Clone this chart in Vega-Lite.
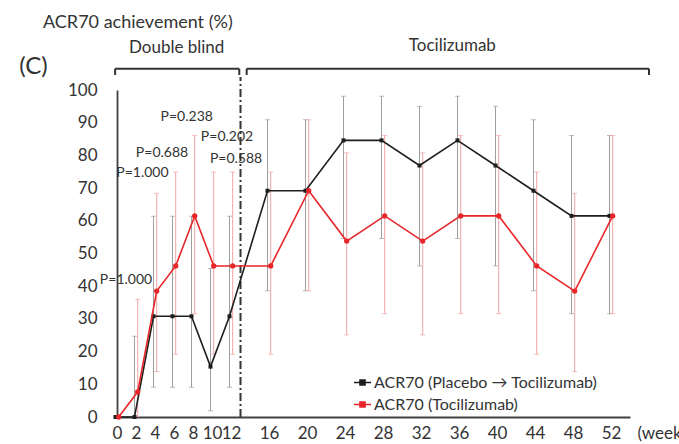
{
  "$schema": "https://vega.github.io/schema/vega-lite/v6.json",
  "autosize": "none",
  "width": 513,
  "height": 327,
  "padding": {"left": 117, "top": 90, "right": 49, "bottom": 27},
  "background": "white",
  "config": {
    "view": {"stroke": null},
    "font": "Lato",
    "axis": {"grid": false, "ticks": false, "tickSize": 0, "labelOverlap": false, "labelFlush": false, "domainColor": "#404040", "labelColor": "#333333", "labelFont": "Lato", "labelFontSize": 17, "titleFont": "Lato", "titleColor": "#333333", "titleFontWeight": "normal"}
  },
  "datasets": {
    "acr": [
      {"week": 0, "series": "ACR70 (Placebo → Tocilizumab)", "value": 0, "lower": null, "upper": null},
      {"week": 2, "series": "ACR70 (Placebo → Tocilizumab)", "value": 0, "lower": 0, "upper": 24.7},
      {"week": 4, "series": "ACR70 (Placebo → Tocilizumab)", "value": 30.8, "lower": 9.1, "upper": 61.4},
      {"week": 6, "series": "ACR70 (Placebo → Tocilizumab)", "value": 30.8, "lower": 9.1, "upper": 61.4},
      {"week": 8, "series": "ACR70 (Placebo → Tocilizumab)", "value": 30.8, "lower": 9.1, "upper": 61.4},
      {"week": 10, "series": "ACR70 (Placebo → Tocilizumab)", "value": 15.4, "lower": 1.9, "upper": 45.4},
      {"week": 12, "series": "ACR70 (Placebo → Tocilizumab)", "value": 30.8, "lower": 9.1, "upper": 61.4},
      {"week": 16, "series": "ACR70 (Placebo → Tocilizumab)", "value": 69.2, "lower": 38.6, "upper": 90.9},
      {"week": 20, "series": "ACR70 (Placebo → Tocilizumab)", "value": 69.2, "lower": 38.6, "upper": 90.9},
      {"week": 24, "series": "ACR70 (Placebo → Tocilizumab)", "value": 84.6, "lower": 54.6, "upper": 98.1},
      {"week": 28, "series": "ACR70 (Placebo → Tocilizumab)", "value": 84.6, "lower": 54.6, "upper": 98.1},
      {"week": 32, "series": "ACR70 (Placebo → Tocilizumab)", "value": 76.9, "lower": 46.2, "upper": 95.0},
      {"week": 36, "series": "ACR70 (Placebo → Tocilizumab)", "value": 84.6, "lower": 54.6, "upper": 98.1},
      {"week": 40, "series": "ACR70 (Placebo → Tocilizumab)", "value": 76.9, "lower": 46.2, "upper": 95.0},
      {"week": 44, "series": "ACR70 (Placebo → Tocilizumab)", "value": 69.2, "lower": 38.6, "upper": 90.9},
      {"week": 48, "series": "ACR70 (Placebo → Tocilizumab)", "value": 61.5, "lower": 31.6, "upper": 86.1},
      {"week": 52, "series": "ACR70 (Placebo → Tocilizumab)", "value": 61.5, "lower": 31.6, "upper": 86.1},
      {"week": 0, "series": "ACR70 (Tocilizumab)", "value": 0, "lower": null, "upper": null},
      {"week": 2, "series": "ACR70 (Tocilizumab)", "value": 7.7, "lower": 0.2, "upper": 36.0},
      {"week": 4, "series": "ACR70 (Tocilizumab)", "value": 38.5, "lower": 13.9, "upper": 68.4},
      {"week": 6, "series": "ACR70 (Tocilizumab)", "value": 46.2, "lower": 19.2, "upper": 74.9},
      {"week": 8, "series": "ACR70 (Tocilizumab)", "value": 61.5, "lower": 31.6, "upper": 86.1},
      {"week": 10, "series": "ACR70 (Tocilizumab)", "value": 46.2, "lower": 19.2, "upper": 74.9},
      {"week": 12, "series": "ACR70 (Tocilizumab)", "value": 46.2, "lower": 19.2, "upper": 74.9},
      {"week": 16, "series": "ACR70 (Tocilizumab)", "value": 46.2, "lower": 19.2, "upper": 74.9},
      {"week": 20, "series": "ACR70 (Tocilizumab)", "value": 69.2, "lower": 38.6, "upper": 90.9},
      {"week": 24, "series": "ACR70 (Tocilizumab)", "value": 53.8, "lower": 25.1, "upper": 80.8},
      {"week": 28, "series": "ACR70 (Tocilizumab)", "value": 61.5, "lower": 31.6, "upper": 86.1},
      {"week": 32, "series": "ACR70 (Tocilizumab)", "value": 53.8, "lower": 25.1, "upper": 80.8},
      {"week": 36, "series": "ACR70 (Tocilizumab)", "value": 61.5, "lower": 31.6, "upper": 86.1},
      {"week": 40, "series": "ACR70 (Tocilizumab)", "value": 61.5, "lower": 31.6, "upper": 86.1},
      {"week": 44, "series": "ACR70 (Tocilizumab)", "value": 46.2, "lower": 19.2, "upper": 74.9},
      {"week": 48, "series": "ACR70 (Tocilizumab)", "value": 38.5, "lower": 13.9, "upper": 68.4},
      {"week": 52, "series": "ACR70 (Tocilizumab)", "value": 61.5, "lower": 31.6, "upper": 86.1}
    ],
    "pvals": [
      {"x": 0.95, "y": 41.9, "label": "P=1.000"},
      {"x": 2.68, "y": 74.5, "label": "P=1.000"},
      {"x": 4.74, "y": 80.8, "label": "P=0.688"},
      {"x": 7.34, "y": 91.7, "label": "P=0.238"},
      {"x": 11.58, "y": 85.5, "label": "P=0.202"},
      {"x": 12.53, "y": 78.9, "label": "P=0.588"}
    ],
    "brackets": [
      {"x": -0.2, "x2": 12.87, "y": 106.5, "y2": 106.5},
      {"x": -0.2, "x2": -0.2, "y": 106.5, "y2": 104.6},
      {"x": 12.87, "x2": 12.87, "y": 106.5, "y2": 104.6},
      {"x": 13.65, "x2": 56.0, "y": 106.5, "y2": 106.5},
      {"x": 13.65, "x2": 13.65, "y": 106.5, "y2": 104.6},
      {"x": 56.0, "x2": 56.0, "y": 106.5, "y2": 104.6}
    ],
    "divider": [{"x": 13, "y": 0, "y2": 104}],
    "headers": [
      {"x": 6.28, "y": 112.8, "label": "Double blind"},
      {"x": 35.3, "y": 113.6, "label": "Tocilizumab"}
    ],
    "panel": [{"x": -8.8, "y": 106.9, "label": "(C)"}],
    "ytitle": [{"x": -7.79, "y": 119.0, "label": "ACR70 achievement (%)"}]
  },
  "layer": [
    {
      "data": {"name": "acr"},
      "transform": [{"filter": "datum.series === 'ACR70 (Placebo → Tocilizumab)' && datum.lower !== null"}],
      "mark": {"type": "rule", "color": "#9e9e9e", "strokeWidth": 1, "xOffset": -1.5},
      "encoding": {
        "x": {"field": "week", "type": "quantitative", "scale": {"domain": [0, 54], "nice": false, "zero": true},
          "axis": {"values": [0, 2, 4, 6, 8, 10, 12, 16, 20, 24, 28, 32, 36, 40, 44, 48, 52], "tickCount": 60, "labelPadding": 8, "labelOverlap": false, "labelFlush": false, "domainWidth": 2.2,
            "title": "(weeks)", "titleAngle": 0, "titleAlign": "left", "titleBaseline": "middle", "titleX": 520, "titleY": 16, "titleFontSize": 17}},
        "y": {"field": "lower", "type": "quantitative", "scale": {"domain": [0, 100], "nice": false},
          "axis": {"values": [0, 10, 20, 30, 40, 50, 60, 70, 80, 90, 100], "tickCount": 30, "labelOverlap": false, "labelPadding": 20, "domainWidth": 1.8, "title": null}},
        "y2": {"field": "upper"}
      }
    },
    {
      "data": {"name": "acr"},
      "transform": [{"filter": "datum.series === 'ACR70 (Placebo → Tocilizumab)' && datum.lower !== null"}, {"fold": ["lower", "upper"], "as": ["end", "yv"]}],
      "mark": {"type": "tick", "color": "#9e9e9e", "orient": "horizontal", "size": 5, "thickness": 1, "xOffset": -1.5},
      "encoding": {
        "x": {"field": "week", "type": "quantitative"},
        "y": {"field": "yv", "type": "quantitative"}
      }
    },
    {
      "data": {"name": "acr"},
      "transform": [{"filter": "datum.series === 'ACR70 (Tocilizumab)' && datum.lower !== null"}],
      "mark": {"type": "rule", "color": "#f4a3a3", "strokeWidth": 1, "xOffset": 1.7},
      "encoding": {
        "x": {"field": "week", "type": "quantitative"},
        "y": {"field": "lower", "type": "quantitative"},
        "y2": {"field": "upper"}
      }
    },
    {
      "data": {"name": "acr"},
      "transform": [{"filter": "datum.series === 'ACR70 (Tocilizumab)' && datum.lower !== null"}, {"fold": ["lower", "upper"], "as": ["end", "yv"]}],
      "mark": {"type": "tick", "color": "#f4a3a3", "orient": "horizontal", "size": 5, "thickness": 1, "xOffset": 1.7},
      "encoding": {
        "x": {"field": "week", "type": "quantitative"},
        "y": {"field": "yv", "type": "quantitative"}
      }
    },
    {
      "data": {"name": "divider"},
      "mark": {"type": "rule", "color": "#333333", "strokeWidth": 2, "strokeDash": [8, 3, 2, 3]},
      "encoding": {
        "x": {"field": "x", "type": "quantitative"},
        "y": {"field": "y", "type": "quantitative"},
        "y2": {"field": "y2"}
      }
    },
    {
      "data": {"name": "acr"},
      "transform": [{"filter": "datum.series === 'ACR70 (Placebo → Tocilizumab)'"}],
      "mark": {"type": "line", "strokeWidth": 1.6, "xOffset": -1.5},
      "encoding": {
        "x": {"field": "week", "type": "quantitative"},
        "y": {"field": "value", "type": "quantitative"},
        "color": {"field": "series", "type": "nominal",
          "scale": {"domain": ["ACR70 (Placebo → Tocilizumab)", "ACR70 (Tocilizumab)"], "range": ["#1e1e1e", "#e8262a"]},
          "legend": {"orient": "none", "legendX": 236, "legendY": 283, "title": null, "padding": 0,
            "symbolType": "M-1,0L1,0M-0.3,-0.3L0.3,-0.3L0.3,0.3L-0.3,0.3Z", "symbolSize": 289, "symbolStrokeWidth": 1.5,
            "labelFont": "Lato", "labelFontSize": 16, "labelColor": "#333333", "labelOffset": 2, "labelLimit": 0, "rowPadding": 4,
            "encode": {"symbols": {"update": {"fill": {"scale": "color", "field": "value"}, "stroke": {"scale": "color", "field": "value"}, "opacity": {"value": 1}}}}}}
      }
    },
    {
      "data": {"name": "acr"},
      "transform": [{"filter": "datum.series === 'ACR70 (Placebo → Tocilizumab)'"}],
      "mark": {"type": "point", "shape": "square", "filled": true, "size": 16, "opacity": 1, "xOffset": -1.5},
      "encoding": {
        "x": {"field": "week", "type": "quantitative"},
        "y": {"field": "value", "type": "quantitative"},
        "color": {"field": "series", "type": "nominal"}
      }
    },
    {
      "data": {"name": "acr"},
      "transform": [{"filter": "datum.series === 'ACR70 (Tocilizumab)'"}],
      "mark": {"type": "line", "strokeWidth": 1.6, "xOffset": 1.7},
      "encoding": {
        "x": {"field": "week", "type": "quantitative"},
        "y": {"field": "value", "type": "quantitative"},
        "color": {"field": "series", "type": "nominal"}
      }
    },
    {
      "data": {"name": "acr"},
      "transform": [{"filter": "datum.series === 'ACR70 (Tocilizumab)'"}],
      "mark": {"type": "point", "shape": "circle", "filled": true, "size": 28, "opacity": 1, "xOffset": 1.7},
      "encoding": {
        "x": {"field": "week", "type": "quantitative"},
        "y": {"field": "value", "type": "quantitative"},
        "color": {"field": "series", "type": "nominal"}
      }
    },
    {
      "data": {"name": "brackets"},
      "mark": {"type": "rule", "color": "#333333", "strokeWidth": 2},
      "encoding": {
        "x": {"field": "x", "type": "quantitative"},
        "x2": {"field": "x2"},
        "y": {"field": "y", "type": "quantitative"},
        "y2": {"field": "y2"}
      }
    },
    {
      "data": {"name": "pvals"},
      "mark": {"type": "text", "font": "Lato", "fontSize": 14, "color": "#333333", "align": "center", "baseline": "middle"},
      "encoding": {
        "x": {"field": "x", "type": "quantitative"},
        "y": {"field": "y", "type": "quantitative"},
        "text": {"field": "label"}
      }
    },
    {
      "data": {"name": "headers"},
      "mark": {"type": "text", "font": "Lato", "fontSize": 17, "color": "#333333", "align": "center", "baseline": "middle"},
      "encoding": {
        "x": {"field": "x", "type": "quantitative"},
        "y": {"field": "y", "type": "quantitative"},
        "text": {"field": "label"}
      }
    },
    {
      "data": {"name": "panel"},
      "mark": {"type": "text", "font": "Lato", "fontSize": 24, "color": "#333333", "align": "center", "baseline": "middle"},
      "encoding": {
        "x": {"field": "x", "type": "quantitative"},
        "y": {"field": "y", "type": "quantitative"},
        "text": {"field": "label"}
      }
    },
    {
      "data": {"name": "ytitle"},
      "mark": {"type": "text", "font": "Lato", "fontSize": 18, "color": "#333333", "align": "left", "baseline": "alphabetic"},
      "encoding": {
        "x": {"field": "x", "type": "quantitative"},
        "y": {"field": "y", "type": "quantitative"},
        "text": {"field": "label"}
      }
    }
  ]
}
